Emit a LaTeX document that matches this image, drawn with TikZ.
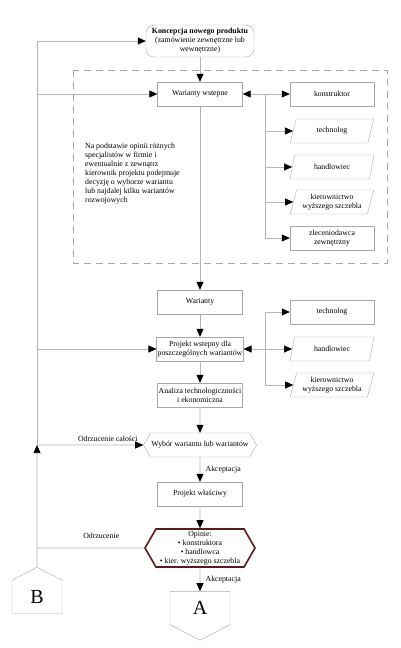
\documentclass[tikz,border=0pt]{standalone}
\usepackage{fontspec}
\setmainfont{Liberation Serif}
\usetikzlibrary{positioning,arrows.meta,shapes.geometric,shapes.symbols}
\definecolor{linegray}{HTML}{B4B4B4}
\definecolor{boxgray}{HTML}{A8A8A8}
\definecolor{opinred}{HTML}{5A1A1A}
\tikzset{
  small/.style={font=\fontsize{7.8}{9}\selectfont},
  box/.style={draw=boxgray, rectangle, minimum width=85pt, minimum height=24pt,
     inner sep=1pt, align=center, small},
  sidebox/.style={box, minimum width=84pt},
  slanted/.style={draw=boxgray, trapezium, trapezium left angle=73, trapezium right angle=107,
     trapezium stretches=true, minimum width=84pt, minimum height=24pt,
     inner sep=1pt, align=center, small},
  decision/.style={draw=boxgray, signal, signal to=west and east, signal pointer angle=120,
     minimum width=110pt, minimum height=24pt, inner sep=1pt, align=center, small},
  link/.style={draw=linegray, line width=0.6pt},
  arr/.style={link, -{Triangle[length=8pt,width=7pt,color=black,fill=black]}},
  conn/.style={draw=boxgray, signal, signal pointer angle=125, inner sep=0pt,
     font=\fontsize{20}{20}\selectfont}
}
\begin{document}
\begin{tikzpicture}[x=1pt, y=-1pt]
  \useasboundingbox (0,0) rectangle (400,648);
  % Frame of the variant study
  \draw[boxgray, dash pattern=on 7pt off 5pt] (73,70) rectangle (387,263);

  % Main column
  \node[box, rounded corners=8pt, minimum width=108pt, minimum height=32pt, inner sep=0pt] (concept) at (200,41)
     {\textbf{Koncepcja nowego produktu}\\(zamówienie zewnętrzne lub\\wewnętrzne)};
  \node[box] (prelim) at (200,94) {Warianty wstepne};
  \node[box] (variants) at (200,302) {Warianty};
  \node[box] (draft) at (200,349) {Projekt wstepny dla\\poszczególnych wariantów};
  \node[box] (analysis) at (200,395) {Analiza technologiczności\\i ekonomiczna};
  \node[decision] (choice) at (200,445) {Wybór wariantu lub wariantów};
  \node[box] (design) at (200,494) {Projekt właściwy};
  \node[decision, draw=opinred, line width=1.6pt, minimum height=38pt, inner sep=0pt] (opinions) at (200,548)
     {Opinie:\\• konstruktora\\• handlowca\\• kier. wyższego szczebla};
  \node[conn, signal to=south, minimum width=60pt, minimum height=37pt] (A) at (200,608) {A};
  \node[conn, signal to=north, minimum width=50pt, minimum height=37pt] (B) at (37,597) {B};

  % Specialists, first group
  \node[sidebox] (constructor) at (332,94) {konstruktor};
  \node[slanted] (tech1) at (332,131) {technolog};
  \node[slanted] (trade1) at (332,167) {handlowiec};
  \node[slanted] (board1) at (332,202) {kierownictwo\\wyższego szczebla};
  \node[sidebox] (client) at (332,238) {zleceniodawca\\zewnętrzny};

  % Specialists, second group
  \node[sidebox] (tech2) at (332,312) {technolog};
  \node[slanted] (trade2) at (332,349) {handlowiec};
  \node[slanted] (board2) at (332,385) {kierownictwo\\wyższego szczebla};

  % Note
  \node[small, align=left, anchor=north west, inner sep=0pt] (note) at (85,143)
     {Na podstawie opinii różnych\\specjalistów w firmie i\\ewentualnie z zewnątrz\\kierownik projektu podejmuje\\decyzję o wyborze wariantu\\lub najdalej kilku wariantów\\rozwojowych};

  % Main flow
  \draw[arr] (concept) -- (prelim);
  \draw[arr] (prelim) -- (variants);
  \draw[arr] (variants) -- (draft);
  \draw[arr] (draft) -- (analysis);
  \draw[arr] (analysis) -- (choice);
  \draw[arr] (choice) -- node[right, small, xshift=2pt] {Akceptacja} (design);
  \draw[arr] (design) -- (opinions);
  \draw[arr] (opinions) -- node[right, small, xshift=2pt] {Akceptacja} (A);

  % Branches to the specialists
  \coordinate (fork1) at (265,94);
  \coordinate (fork2) at (265,349);
  \draw[arr] (fork1) -- (prelim);
  \draw[arr] (fork1) -- (constructor);
  \draw[link] (fork1) -- (265,238);
  \foreach \n in {tech1,trade1,board1,client}
    \draw[arr] (fork1) |- (\n.west);
  \draw[arr] (fork2) -- (draft);
  \draw[link] (265,312) -- (265,385);
  \foreach \n in {tech2,trade2,board2}
    \draw[arr] (fork2) |- (\n.west);

  % Return loop
  \coordinate (back) at (37,445);
  \draw[arr] (B) -- (back);
  \draw[arr] (back) |- (concept);
  \draw[arr] (37,94) -- (prelim);
  \draw[arr] (37,349) -- (draft);
  \draw[arr] (back) -- node[above left, small, pos=1, xshift=-2pt] {Odrzucenie całości} (choice);
  \draw[link] (opinions) -- node[above, small, pos=0.4, yshift=6pt] {Odrzucenie} (37,548);
\end{tikzpicture}
\end{document}
